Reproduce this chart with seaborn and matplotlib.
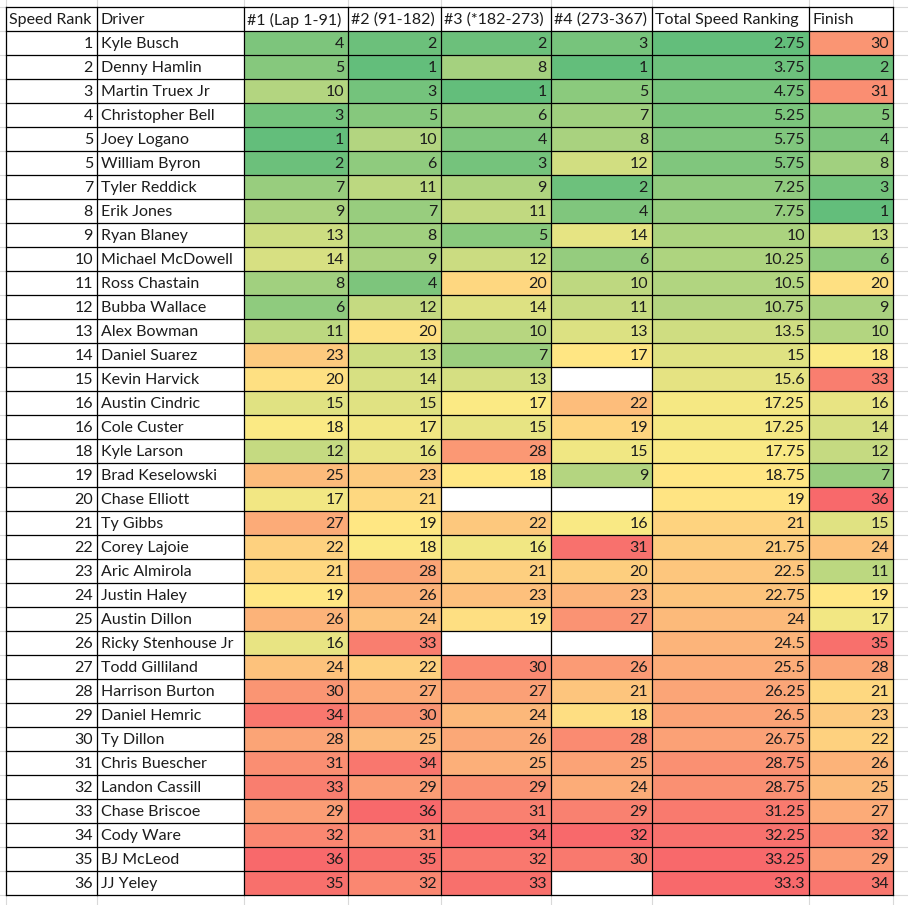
import numpy as np
import pandas as pd
import matplotlib.pyplot as plt
import seaborn as sns
from matplotlib.colors import LinearSegmentedColormap

ranks = [1, 2, 3, 4, 5, 5, 7, 8, 9, 10, 11, 12, 13, 14, 15, 16, 16, 18,
         19, 20, 21, 22, 23, 24, 25, 26, 27, 28, 29, 30, 31, 32, 33, 34, 35, 36]
drivers = ["Kyle Busch", "Denny Hamlin", "Martin Truex Jr", "Christopher Bell",
           "Joey Logano", "William Byron", "Tyler Reddick", "Erik Jones",
           "Ryan Blaney", "Michael McDowell", "Ross Chastain", "Bubba Wallace",
           "Alex Bowman", "Daniel Suarez", "Kevin Harvick", "Austin Cindric",
           "Cole Custer", "Kyle Larson", "Brad Keselowski", "Chase Elliott",
           "Ty Gibbs", "Corey Lajoie", "Aric Almirola", "Justin Haley",
           "Austin Dillon", "Ricky Stenhouse Jr", "Todd Gilliland",
           "Harrison Burton", "Daniel Hemric", "Ty Dillon", "Chris Buescher",
           "Landon Cassill", "Chase Briscoe", "Cody Ware", "BJ McLeod", "JJ Yeley"]
nan = np.nan
stage1 = [4, 5, 10, 3, 1, 2, 7, 9, 13, 14, 8, 6, 11, 23, 20, 15, 18, 12,
          25, 17, 27, 22, 21, 19, 26, 16, 24, 30, 34, 28, 31, 33, 29, 32, 36, 35]
stage2 = [2, 1, 3, 5, 10, 6, 11, 7, 8, 9, 4, 12, 20, 13, 14, 15, 17, 16,
          23, 21, 19, 18, 28, 26, 24, 33, 22, 27, 30, 25, 34, 29, 36, 31, 35, 32]
stage3 = [2, 8, 1, 6, 4, 3, 9, 11, 5, 12, 20, 14, 10, 7, 13, 17, 15, 28,
          18, nan, 22, 16, 21, 23, 19, nan, 30, 27, 24, 26, 25, 29, 31, 34, 32, 33]
stage4 = [3, 1, 5, 7, 8, 12, 2, 4, 14, 6, 10, 11, 13, 17, nan, 22, 19, 15,
          9, nan, 16, 31, 20, 23, 27, nan, 26, 21, 18, 28, 25, 24, 29, 32, 30, nan]
total = [2.75, 3.75, 4.75, 5.25, 5.75, 5.75, 7.25, 7.75, 10, 10.25, 10.5, 10.75,
         13.5, 15, 15.6, 17.25, 17.25, 17.75, 18.75, 19, 21, 21.75, 22.5, 22.75,
         24, 24.5, 25.5, 26.25, 26.5, 26.75, 28.75, 28.75, 31.25, 32.25, 33.25, 33.3]
finish = [30, 2, 31, 5, 4, 8, 3, 1, 13, 6, 20, 9, 10, 18, 33, 16, 14, 12,
          7, 36, 15, 24, 11, 19, 17, 35, 28, 21, 23, 22, 26, 25, 27, 32, 29, 34]

headers = ["Speed Rank", "Driver", "#1 (Lap 1-91)", "#2 (91-182)", "#3 (*182-273)",
           "#4 (273-367)", "Total Speed Ranking", "Finish"]

df = pd.DataFrame({"s1": stage1, "s2": stage2, "s3": stage3, "s4": stage4,
                   "total": total, "finish": finish})

W, H = 908, 905
col_edges = [6, 97, 244, 348, 441, 551, 652, 809, 893]
top, row_h = 7, 24
n = len(drivers)
bottom = top + row_h * (n + 1)

plt.rcParams['font.family'] = ['Lato', 'DejaVu Sans']
fsize = 11.5
txt = "#1c1c1c"

# excel style green-yellow-red scale, each column on its own min / median / max
cmap = LinearSegmentedColormap.from_list("excel", ["#63BE7B", "#FFEB84", "#F8696B"])


def scale(s):
    lo, mid, hi = s.min(), s.median(), s.max()
    low = 0.5 * (s - lo) / (mid - lo)
    high = 0.5 + 0.5 * (s - mid) / (hi - mid)
    return low.where(s <= mid, high)


fig = plt.figure(figsize=(W / 100, H / 100), dpi=100)

for j, col in enumerate(df.columns):
    x0, x1 = col_edges[j + 2], col_edges[j + 3]
    hax = fig.add_axes([x0 / W, 1 - bottom / H, (x1 - x0) / W, (bottom - top - row_h) / H], zorder=1)
    sns.heatmap(scale(df[col]).to_frame(), cmap=cmap, vmin=0, vmax=1, cbar=False,
                ax=hax, xticklabels=False, yticklabels=False)
    hax.axis('off')

ax = fig.add_axes([0, 0, 1, 1], zorder=2)
ax.set_xlim(0, W)
ax.set_ylim(H, 0)
ax.axis('off')

# light spreadsheet gridlines around the table
grey = "#D9D9D9"
for k in range(n + 2):
    ax.plot([0, W], [top + k * row_h] * 2, color=grey, lw=0.8, zorder=1)
for x in col_edges:
    ax.plot([x, x], [0, H], color=grey, lw=0.8, zorder=1)

# black cell borders
for k in range(n + 2):
    ax.plot([col_edges[0], col_edges[-1]], [top + k * row_h] * 2, color="black", lw=0.9, zorder=3)
for x in col_edges:
    ax.plot([x, x], [top, bottom], color="black", lw=0.9, zorder=3)

for j, h in enumerate(headers):
    ax.text(col_edges[j] + 3, top + row_h / 2 + 1, h, ha='left', va='center',
            fontsize=fsize, color=txt, zorder=4)

for i in range(n):
    yc = top + row_h * (i + 1) + row_h / 2 + 1
    ax.text(col_edges[1] - 4, yc, str(ranks[i]), ha='right', va='center',
            fontsize=fsize, color=txt, zorder=4)
    ax.text(col_edges[1] + 4, yc, drivers[i], ha='left', va='center',
            fontsize=fsize, color=txt, zorder=4)
    for j, col in enumerate(df.columns):
        v = df[col].iloc[i]
        if pd.isna(v):
            continue
        ax.text(col_edges[j + 3] - 4, yc, f"{v:g}", ha='right', va='center',
                fontsize=fsize, color=txt, zorder=4)

fig.savefig("out.png", dpi=100)
